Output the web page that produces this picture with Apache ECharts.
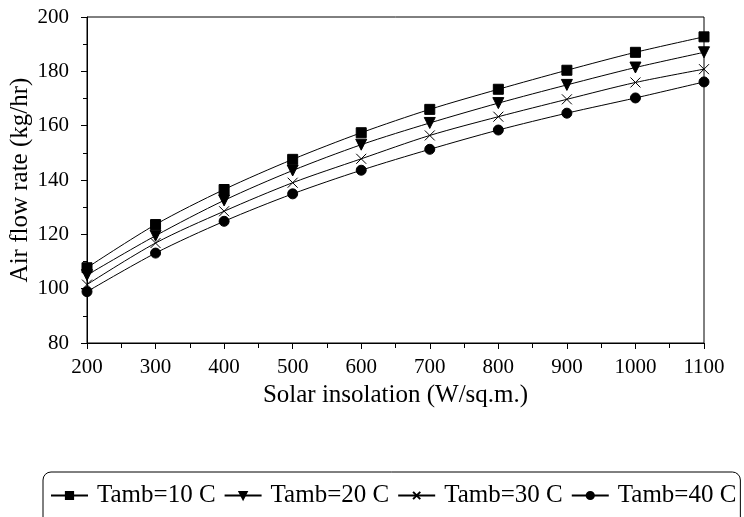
<!DOCTYPE html>
<html>
<head>
<meta charset="utf-8">
<script src="https://cdn.jsdelivr.net/npm/echarts@6/dist/echarts.min.js"></script>
<style>
  html, body { margin: 0; padding: 0; background: #fff; }
  #chart { width: 744px; height: 517px; }
</style>
</head>
<body>
<div id="chart"></div>
<script>
var insolation = [200, 300, 400, 500, 600, 700, 800, 900, 1000, 1100];
var tamb10 = [107.7, 123.6, 136.5, 147.6, 157.4, 166.0, 173.4, 180.4, 187.0, 192.7];
var tamb20 = [105.0, 119.5, 132.5, 143.5, 153.0, 161.0, 168.3, 175.0, 181.4, 187.0];
var tamb30 = [101.5, 116.8, 128.5, 139.0, 147.8, 156.4, 163.3, 169.7, 175.9, 180.8];
var tamb40 = [98.9, 113.1, 124.8, 134.9, 143.6, 151.3, 158.4, 164.6, 170.2, 176.1];

var seriesNames = ['Tamb=10 C', 'Tamb=20 C', 'Tamb=30 C', 'Tamb=40 C'];

function pairs(ys) {
    return insolation.map(function (x, i) { return [x, ys[i]]; });
}

var font = 'Liberation Serif';

function makeSeries(name, ys, symbol, size, rotate) {
    return {
        name: name,
        type: 'line',
        data: pairs(ys),
        smooth: 0.3,
        symbol: symbol,
        symbolSize: size,
        symbolRotate: rotate || 0,
        showAllSymbol: true,
        lineStyle: { color: '#000', width: 1 },
        itemStyle: { color: '#000', borderColor: '#000', borderWidth: 1 }
    };
}

var myChart = echarts.init(document.getElementById('chart'));

var option = {
    animation: false,
    backgroundColor: '#fff',
    grid: {
        left: 87, right: 40, top: 17, bottom: 174,
        outerBoundsMode: 'none',
        show: true, borderColor: '#000', borderWidth: 1
    },
    xAxis: {
        type: 'value',
        min: 200, max: 1100, interval: 100,
        name: 'Solar insolation (W/sq.m.)',
        nameLocation: 'middle',
        nameGap: 37,
        nameTextStyle: { fontFamily: font, fontSize: 25, color: '#000' },
        axisLine: { lineStyle: { color: '#000', width: 1 } },
        axisTick: { inside: false, length: 6, lineStyle: { color: '#000' } },
        minorTick: { show: true, splitNumber: 2, length: 5, lineStyle: { color: '#000' } },
        axisLabel: {
            fontFamily: font, fontSize: 21, color: '#000', margin: 14,
            formatter: function (v) { return String(v); }
        },
        splitLine: { show: false }
    },
    yAxis: {
        type: 'value',
        min: 80, max: 200, interval: 20,
        name: 'Air flow rate (kg/hr)',
        nameLocation: 'middle',
        nameGap: 54,
        nameMoveOverlap: false,
        nameTextStyle: { fontFamily: font, fontSize: 25, color: '#000' },
        axisLine: { lineStyle: { color: '#000', width: 1 } },
        axisTick: { inside: false, length: 6, lineStyle: { color: '#000' } },
        minorTick: { show: true, splitNumber: 2, length: 4, lineStyle: { color: '#000' } },
        axisLabel: { fontFamily: font, fontSize: 21, color: '#000', margin: 18 },
        splitLine: { show: false }
    },
    legend: {
        data: seriesNames,
        left: 43,
        top: 472,
        width: 740,
        padding: [11, 4, 20, 7],
        itemGap: 8,
        itemWidth: 37,
        itemHeight: 9,
        borderColor: '#000',
        borderWidth: 1,
        borderRadius: 8,
        textStyle: { fontFamily: font, fontSize: 25, color: '#000', padding: [0, 0, 0, 4] }
    },
    series: [
        makeSeries(seriesNames[0], tamb10, 'rect', 10),
        makeSeries(seriesNames[1], tamb20, 'triangle', 11, 180),
        makeSeries(seriesNames[2], tamb30, 'path://M0,0L10,10M10,0L0,10', 10),
        makeSeries(seriesNames[3], tamb40, 'circle', 10)
    ]
};

myChart.setOption(option);
</script>
</body>
</html>
